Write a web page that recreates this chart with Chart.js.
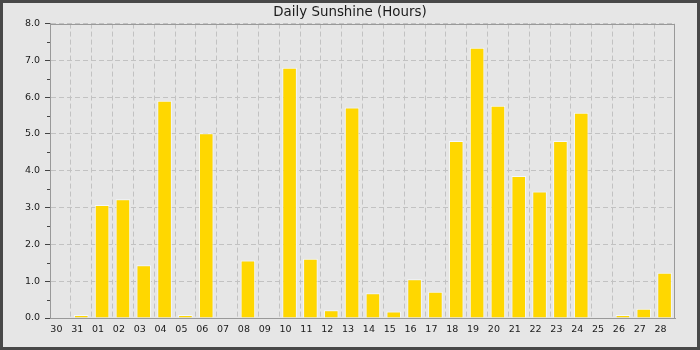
<!DOCTYPE html>
<html>
<head>
<meta charset="utf-8">
<script src="https://cdn.jsdelivr.net/npm/chart.js@4/dist/chart.umd.min.js"></script>
<style>
  html, body { margin: 0; padding: 0; background: #e6e6e6; }
  #frame {
    width: 700px; height: 350px; box-sizing: border-box;
    border: 3px solid #484848; background: #e6e6e6;
  }
  canvas { display: block; }
</style>
</head>
<body>
<div id="frame"><canvas id="chart" width="694" height="344"></canvas></div>
<script>
const days = ["30", "31", "01", "02", "03", "04", "05", "06", "07", "08",
  "09", "10", "11", "12", "13", "14", "15", "16", "17", "18",
  "19", "20", "21", "22", "23", "24", "25", "26", "27", "28"];

const sunshine = [0, 0.08, 3.07, 3.23, 1.43, 5.9, 0.08, 5.02, 0, 1.56,
  0, 6.8, 1.61, 0.21, 5.72, 0.67, 0.18, 1.05, 0.71, 4.81,
  7.34, 5.77, 3.86, 3.44, 4.81, 5.58, 0, 0.08, 0.25, 1.23];

const yTicks = [0, 1, 2, 3, 4, 5, 6, 7, 8];

const font = "DejaVu Sans";
const gridColor = "#c2c2c2";
const axisColor = "#999999";

// plot frame + small half-step ticks on the y axis
const framePlugin = {
  id: "frame",
  afterDraw(chart) {
    const ctx = chart.ctx;
    const a = chart.chartArea;
    const y = chart.scales.y;
    ctx.save();
    ctx.strokeStyle = axisColor;
    ctx.lineWidth = 1;
    ctx.strokeRect(Math.round(a.left) + 0.5, Math.round(a.top) + 0.5,
      Math.round(a.right - a.left) - 1, Math.round(a.bottom - a.top));
    ctx.strokeStyle = "#444";
    ctx.beginPath();
    for (let i = 0; i < yTicks.length - 1; i++) {
      const py = Math.round(y.getPixelForValue(yTicks[i] + 0.5)) + 0.5;
      ctx.moveTo(a.left - 3, py);
      ctx.lineTo(a.left, py);
    }
    ctx.stroke();
    ctx.restore();
  }
};

new Chart(document.getElementById("chart"), {
  type: "bar",
  data: {
    labels: days,
    datasets: [{
      data: sunshine,
      backgroundColor: "#ffd700",
      borderColor: "#f4f8fc",
      borderWidth: 1,
      barPercentage: 0.7,
      categoryPercentage: 1
    }]
  },
  options: {
    responsive: false,
    animation: false,
    layout: { padding: 0 },
    plugins: {
      legend: { display: false },
      tooltip: { enabled: false },
      title: {
        display: true,
        text: "Daily Sunshine (Hours)",
        color: "#1a1a1a",
        font: { family: font, size: 13.4, weight: "normal" },
        padding: { top: 1.5, bottom: 3 }
      }
    },
    scales: {
      x: {
        afterFit(scale) { scale.height = 29; },
        grid: { color: gridColor, drawTicks: false, offset: true },
        border: { color: axisColor, dash: [5, 3] },
        ticks: {
          color: "#1a1a1a",
          font: { family: font, size: 9.5 },
          padding: 6,
          labelOffset: -4,
          autoSkip: false,
          maxRotation: 0
        }
      },
      y: {
        min: 0,
        max: 8,
        afterFit(scale) { scale.width = 47; },
        grid: { color: gridColor, tickColor: "#444", tickLength: 5, tickBorderDash: [] },
        border: { color: axisColor, dash: [5, 3] },
        afterBuildTicks(scale) { scale.ticks = yTicks.map(v => ({ value: v })); },
        ticks: {
          color: "#1a1a1a",
          font: { family: font, size: 9.5 },
          padding: 5,
          callback: v => v.toFixed(1)
        }
      },
      // empty right margin so the title stays centred on the whole canvas
      right: {
        position: "right",
        min: 0,
        max: 8,
        afterFit(scale) { scale.width = 22; },
        grid: { display: false, drawTicks: false },
        border: { display: false },
        ticks: { display: false }
      }
    }
  },
  plugins: [framePlugin]
});
</script>
</body>
</html>
